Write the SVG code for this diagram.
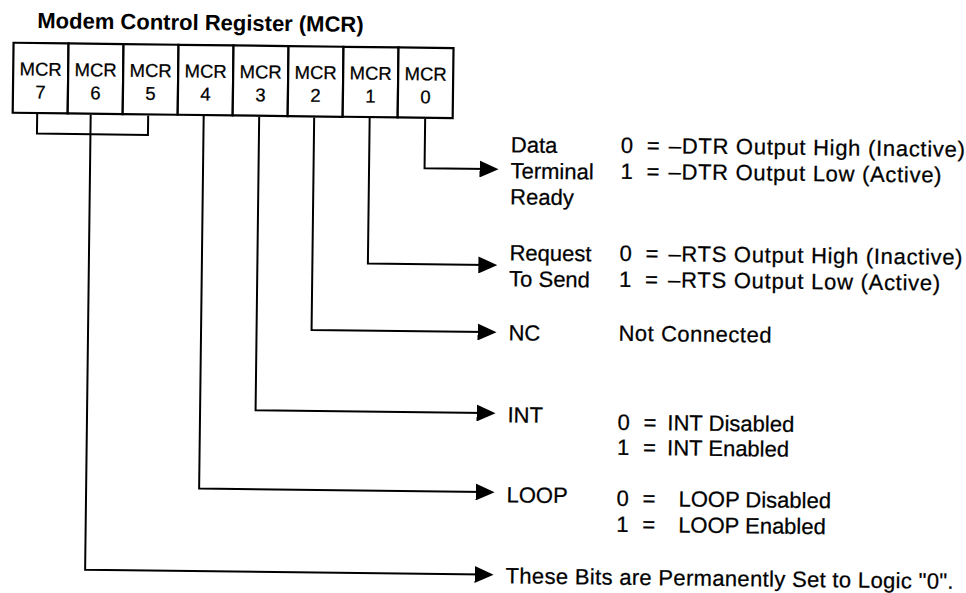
<svg xmlns="http://www.w3.org/2000/svg" width="966" height="593" viewBox="0 0 966 593">
  <style>
    .bg { fill: #ffffff; }
    .cell { fill: #ffffff; stroke: #000; stroke-width: 2.2; }
    .t { font-family: "Liberation Sans", Arial, Helvetica, sans-serif; fill: #000; stroke: #000; stroke-width: 0.25; font-size: 22px; }
    .title { font-family: "Liberation Sans", Arial, Helvetica, sans-serif; font-weight: bold; font-size: 22px; fill: #000; }
    .reg { font-family: "Liberation Sans", Arial, Helvetica, sans-serif; font-size: 18.5px; fill: #000; stroke: #000; stroke-width: 0.25; text-anchor: middle; }
    .wire { fill: none; stroke: #000; stroke-width: 2; }
    .arrow { marker-end: url(#ah); }
  </style>
  <defs>
    <marker id="ah" markerUnits="userSpaceOnUse" viewBox="0 0 19 17" refX="9" refY="8.5" markerWidth="19" markerHeight="17" orient="auto">
      <path d="M0,0 L19,8.5 L0,17 z" fill="#000"/>
    </marker>
  </defs>
  <rect class="bg" x="0" y="0" width="966" height="593"/>
  <g transform="rotate(0.7 483 296)">
    <text class="title" x="34" y="33.5">Modem Control Register (MCR)</text>

    <g id="register">
      <g id="mcr7"><rect class="cell" x="10.5" y="48.5" width="55" height="70"/><text class="reg" x="38" y="81">MCR</text><text class="reg" x="38" y="104">7</text></g>
      <g id="mcr6"><rect class="cell" x="65.5" y="48.5" width="55" height="70"/><text class="reg" x="93" y="81">MCR</text><text class="reg" x="93" y="104">6</text></g>
      <g id="mcr5"><rect class="cell" x="120.5" y="48.5" width="55" height="70"/><text class="reg" x="148" y="81">MCR</text><text class="reg" x="148" y="104">5</text></g>
      <g id="mcr4"><rect class="cell" x="175.5" y="48.5" width="55" height="70"/><text class="reg" x="203" y="81">MCR</text><text class="reg" x="203" y="104">4</text></g>
      <g id="mcr3"><rect class="cell" x="230.5" y="48.5" width="55" height="70"/><text class="reg" x="258" y="81">MCR</text><text class="reg" x="258" y="104">3</text></g>
      <g id="mcr2"><rect class="cell" x="285.5" y="48.5" width="55" height="70"/><text class="reg" x="313" y="81">MCR</text><text class="reg" x="313" y="104">2</text></g>
      <g id="mcr1"><rect class="cell" x="340.5" y="48.5" width="55" height="70"/><text class="reg" x="368" y="81">MCR</text><text class="reg" x="368" y="104">1</text></g>
      <g id="mcr0"><rect class="cell" x="395.5" y="48.5" width="55" height="70"/><text class="reg" x="423" y="81">MCR</text><text class="reg" x="423" y="104">0</text></g>
    </g>

    <g id="connectors">
      <path class="wire arrow" d="M423,119.5 V169 H487"/>
      <path class="wire arrow" d="M367.5,119.5 V265 H487"/>
      <path class="wire arrow" d="M312,119.5 V332 H487"/>
      <path class="wire arrow" d="M257,119.5 V413 H487"/>
      <path class="wire arrow" d="M201.5,119.5 V492 H487"/>
      <path class="wire" d="M35,119.5 V139 H146 V119.5"/>
      <path class="wire arrow" d="M88.5,119.5 V574.5 H487"/>
    </g>

    <g id="dtr">
      <text class="t" x="509" y="152">Data</text>
      <text class="t" x="509" y="178">Terminal</text>
      <text class="t" x="509" y="204">Ready</text>
      <text class="t" x="619" y="151">0</text><text class="t" x="645" y="151">=</text>
      <text class="t" x="667" y="151" textLength="296">–DTR Output High (Inactive)</text>
      <text class="t" x="619" y="177">1</text><text class="t" x="645" y="177">=</text>
      <text class="t" x="667" y="177" textLength="273">–DTR Output Low (Active)</text>
    </g>

    <g id="rts">
      <text class="t" x="509" y="260">Request</text>
      <text class="t" x="509" y="286">To Send</text>
      <text class="t" x="619" y="259">0</text><text class="t" x="645" y="259">=</text>
      <text class="t" x="668" y="259" textLength="294">–RTS Output High (Inactive)</text>
      <text class="t" x="619" y="285">1</text><text class="t" x="645" y="285">=</text>
      <text class="t" x="668" y="285" textLength="272">–RTS Output Low (Active)</text>
    </g>

    <g id="nc">
      <text class="t" x="509" y="340">NC</text>
      <text class="t" x="619" y="339" textLength="153">Not Connected</text>
    </g>

    <g id="int">
      <text class="t" x="509" y="422">INT</text>
      <text class="t" x="619" y="428">0</text><text class="t" x="645" y="428">=</text>
      <text class="t" x="669" y="428">INT Disabled</text>
      <text class="t" x="619" y="453">1</text><text class="t" x="645" y="453">=</text>
      <text class="t" x="669" y="453">INT Enabled</text>
    </g>

    <g id="loop">
      <text class="t" x="509" y="502">LOOP</text>
      <text class="t" x="619" y="504">0</text><text class="t" x="645" y="504">=</text>
      <text class="t" x="681" y="504">LOOP Disabled</text>
      <text class="t" x="619" y="530">1</text><text class="t" x="645" y="530">=</text>
      <text class="t" x="681" y="530">LOOP Enabled</text>
    </g>

    <g id="reserved">
      <text class="t" x="509" y="583" textLength="448">These Bits are Permanently Set to Logic "0".</text>
    </g>
  </g>
</svg>
